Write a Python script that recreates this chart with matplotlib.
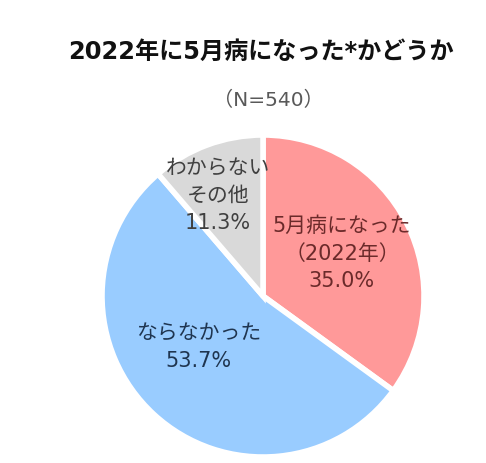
import matplotlib
matplotlib.use("Agg")
import matplotlib.pyplot as plt

# Latin/digits from DejaVu (wide, close to the original), kana/kanji from Noto CJK
plt.rcParams['font.family'] = ['DejaVu Sans', 'Noto Sans CJK JP']

# data
labels = ['5月病になった\n（2022年）', 'ならなかった', 'わからない\nその他']
values = [35.0, 53.7, 11.3]
colors = ['#FF9999', '#99CCFF', '#D9D9D9']
text_colors = ['#6B2A2A', '#1F3550', '#404040']
label_pos = [(0.49, 0.27), (-0.40, -0.31), (-0.28, 0.63)]

fig = plt.figure(figsize=(4.86, 4.64), dpi=100)
fig.text(0.537, 0.888, '2022年に5月病になった*かどうか', ha='center', va='center',
         fontsize=17.4, fontweight='bold', color='#111111')
fig.text(0.553, 0.784, '（N=540）', ha='center', va='center', fontsize=14.5, color='#595959')

ax = fig.add_axes([0.2099, 0.0129, 0.6626, 0.694])
ax.pie(values, colors=colors, startangle=90, counterclock=False, radius=1,
       wedgeprops=dict(edgecolor='white', linewidth=4))
ax.set_xlim(-1, 1)
ax.set_ylim(-1, 1)
ax.set_aspect('equal')
ax.axis('off')

for lab, v, (x, y), c in zip(labels, values, label_pos, text_colors):
    ax.text(x, y, lab + '\n' + '%.1f%%' % v, ha='center', va='center',
            fontsize=15, color=c, linespacing=1.45)

fig.savefig('out.png', dpi=100, facecolor='white')
